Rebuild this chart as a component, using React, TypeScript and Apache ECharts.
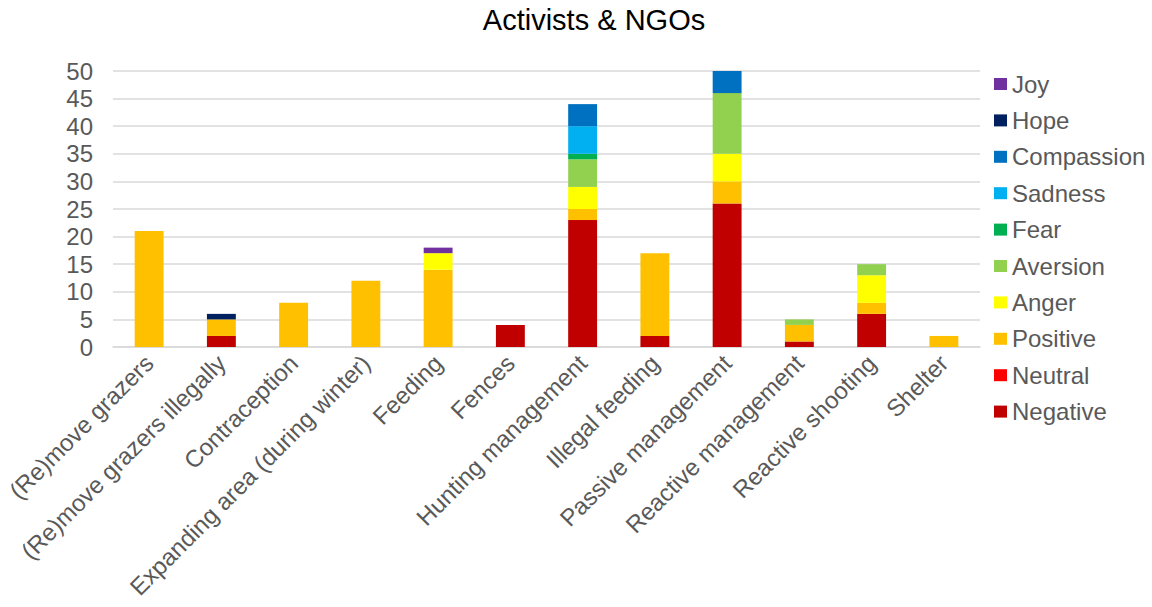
import React, { useEffect, useRef } from "react";
import * as echarts from "echarts";

const categories = [
  "(Re)move grazers",
  "(Re)move grazers illegally",
  "Contraception",
  "Expanding area (during winter)",
  "Feeding",
  "Fences",
  "Hunting management",
  "Illegal feeding",
  "Passive management",
  "Reactive management",
  "Reactive shooting",
  "Shelter",
];

const negative = [0, 2, 0, 0, 0, 4, 23, 2, 26, 1, 6, 0];
const neutral = [0, 0, 0, 0, 0, 0, 0, 0, 0, 0, 0, 0];
const positive = [21, 3, 8, 12, 14, 0, 2, 15, 4, 3, 2, 2];
const anger = [0, 0, 0, 0, 3, 0, 4, 0, 5, 0, 5, 0];
const aversion = [0, 0, 0, 0, 0, 0, 5, 0, 11, 1, 2, 0];
const fear = [0, 0, 0, 0, 0, 0, 1, 0, 0, 0, 0, 0];
const sadness = [0, 0, 0, 0, 0, 0, 5, 0, 0, 0, 0, 0];
const compassion = [0, 0, 0, 0, 0, 0, 4, 0, 4, 0, 0, 0];
const hope = [0, 1, 0, 0, 0, 0, 0, 0, 0, 0, 0, 0];
const joy = [0, 0, 0, 0, 1, 0, 0, 0, 0, 0, 0, 0];

const yTicks = [0, 5, 10, 15, 20, 25, 30, 35, 40, 45, 50];

const seriesDefs = [
  { name: "Negative", data: negative, color: "#C00000" },
  { name: "Neutral", data: neutral, color: "#FF0000" },
  { name: "Positive", data: positive, color: "#FFC000" },
  { name: "Anger", data: anger, color: "#FFFF00" },
  { name: "Aversion", data: aversion, color: "#92D050" },
  { name: "Fear", data: fear, color: "#00B050" },
  { name: "Sadness", data: sadness, color: "#00B0F0" },
  { name: "Compassion", data: compassion, color: "#0070C0" },
  { name: "Hope", data: hope, color: "#002060" },
  { name: "Joy", data: joy, color: "#7030A0" },
];

const FONT = "'Liberation Sans', Arial, sans-serif";

export default function App() {
  const ref = useRef<HTMLDivElement>(null);

  useEffect(() => {
    if (!ref.current) return;
    const chart = echarts.init(ref.current, undefined, { renderer: "svg" });
    chart.setOption({
      animation: false,
      backgroundColor: "#ffffff",
      title: {
        text: "Activists & NGOs",
        left: 589,
        top: 0,
        textAlign: "center",
        textStyle: {
          fontFamily: FONT,
          fontSize: 29,
          fontWeight: "normal",
          color: "#000000",
        },
      },
      legend: {
        orient: "vertical",
        left: 989,
        top: 67,
        itemWidth: 13,
        itemHeight: 12,
        itemGap: 12.4,
        icon: "rect",
        data: seriesDefs.map((s) => s.name).reverse(),
        textStyle: {
          fontFamily: FONT,
          fontSize: 24,
          lineHeight: 24,
          color: "#595959",
        },
      },
      grid: {
        left: 113,
        right: 172,
        top: 71,
        bottom: 260,
        containLabel: false,
      },
      xAxis: {
        type: "category",
        data: categories,
        axisTick: { show: false },
        axisLine: { show: true, lineStyle: { color: "#d9d9d9", width: 1.5 } },
        axisLabel: {
          rotate: 45,
          interval: 0,
          margin: 12,
          fontFamily: FONT,
          fontSize: 24,
          color: "#595959",
        },
      },
      yAxis: {
        type: "value",
        min: yTicks[0],
        max: yTicks[yTicks.length - 1],
        interval: 5,
        axisLine: { show: false },
        axisTick: { show: false },
        splitLine: { lineStyle: { color: "#d9d9d9", width: 1.5 } },
        axisLabel: {
          margin: 20,
          fontFamily: FONT,
          fontSize: 24,
          color: "#595959",
        },
      },
      series: seriesDefs.map((s) => ({
        name: s.name,
        type: "bar",
        stack: "total",
        barWidth: "40%",
        data: s.data,
        itemStyle: { color: s.color },
      })),
    });
    return () => chart.dispose();
  }, []);

  return (
    <div
      ref={ref}
      style={{ position: "absolute", left: 0, top: 0, width: 1152, height: 607 }}
    />
  );
}
